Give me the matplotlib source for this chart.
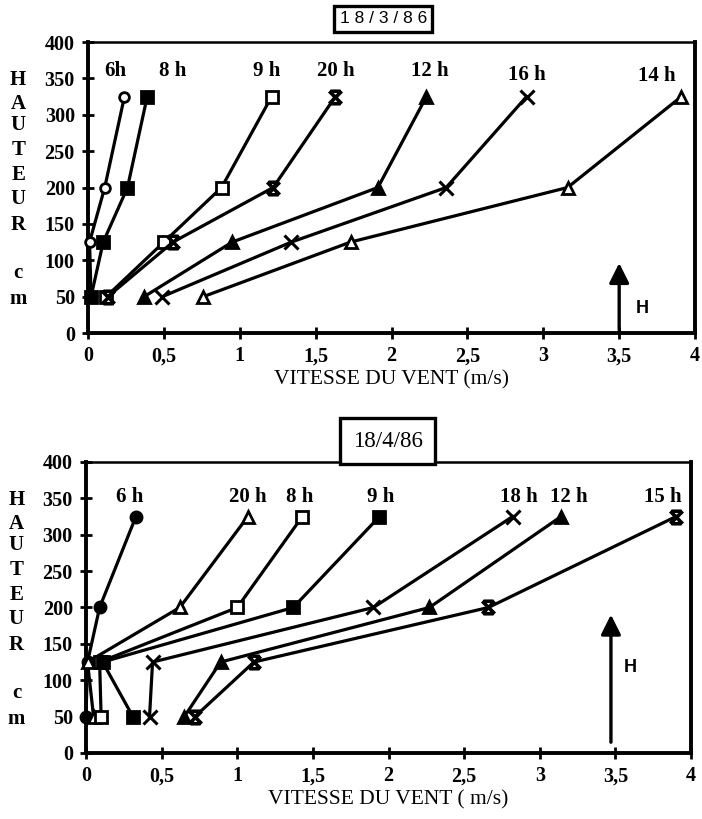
import matplotlib
matplotlib.use("Agg")
import matplotlib.pyplot as plt
from matplotlib.path import Path

# hauteurs de mesure (cm)
hauteurs = [50, 125, 200, 325]

# 18/3/86 - vitesse du vent (m/s) a 50, 125, 200, 325 cm
heures_mars = ["6h", "8 h", "9 h", "20 h", "12 h", "16 h", "14 h"]
v_mars_6h = [0.02, 0.01, 0.11, 0.24]
v_mars_8h = [0.02, 0.10, 0.26, 0.39]
v_mars_9h = [0.12, 0.50, 0.88, 1.21]
v_mars_20h = [0.13, 0.56, 1.22, 1.63]
v_mars_12h = [0.37, 0.95, 1.91, 2.23]
v_mars_16h = [0.49, 1.34, 2.36, 2.89]
v_mars_14h = [0.76, 1.73, 3.16, 3.91]
lab_x_mars = [0.18, 0.56, 1.18, 1.63, 2.25, 2.89, 3.75]
lab_y_mars = [360, 360, 360, 360, 360, 355, 353]

# 18/4/86
heures_avril = ["6 h", "20 h", "8 h", "9 h", "18 h", "12 h", "15 h"]
v_avril_6h = [0.00, 0.01, 0.09, 0.33]
v_avril_20h = [0.05, 0.01, 0.62, 1.07]
v_avril_8h = [0.10, 0.09, 1.00, 1.43]
v_avril_9h = [0.31, 0.11, 1.37, 1.94]
v_avril_18h = [0.42, 0.44, 1.90, 2.82]
v_avril_12h = [0.65, 0.89, 2.27, 3.14]
v_avril_15h = [0.72, 1.11, 2.66, 3.90]
lab_x_avril = [0.29, 1.07, 1.41, 1.95, 2.86, 3.19, 3.81]
lab_y_avril = [352, 352, 352, 352, 352, 352, 352]

xticks = [0, 0.5, 1, 1.5, 2, 2.5, 3, 3.5, 4]
xticklabels = ["0", "0,5", "1", "1,5", "2", "2,5", "3", "3,5", "4"]
yticks = [0, 50, 100, 150, 200, 250, 300, 350, 400]

serif = "Liberation Serif"

# marqueur "x" avec barres (comme dans l'original)
papillon = Path([(-1, -1), (1, 1), (-1, 1), (1, -1), (-0.8, 1), (0.8, 1), (-0.8, -1), (0.8, -1)],
                [Path.MOVETO, Path.LINETO, Path.MOVETO, Path.LINETO,
                 Path.MOVETO, Path.LINETO, Path.MOVETO, Path.LINETO])

def courbe(ax, v, marker, fill, ms, mew=2):
    ax.plot(v, hauteurs, color="black", lw=2.3, marker=marker, ms=ms,
            mfc=fill, mec="black", mew=mew, zorder=3, clip_on=False)

def cadre(ax, xlabel, arrow_top, arrow_base, h_pos):
    ax.set_xlim(0, 4)
    ax.set_ylim(0, 400)
    ax.set_xticks(xticks)
    ax.set_xticklabels(xticklabels)
    ax.set_yticks(yticks)
    for s in ["left", "bottom", "right"]:
        ax.spines[s].set_linewidth(2.8)
    ax.spines["top"].set_linewidth(1.8)
    ax.tick_params(direction="inout", length=9, width=2, pad=5)
    for t in ax.get_xticklabels() + ax.get_yticklabels():
        t.set_fontfamily(serif)
        t.set_fontweight("bold")
        t.set_fontsize(14.5)
    ax.set_xlabel(xlabel, fontfamily=serif, fontsize=15.5, labelpad=3)
    lettres = ["H", "A", "U", "T", "E", "U", "R", "c", "m"]
    ys = [348, 315, 286, 252, 217, 184, 148, 82, 47]
    for l, y in zip(lettres, ys):
        ax.text(-0.46, y, l, fontfamily=serif, fontsize=15, fontweight="bold",
                ha="center", va="center", clip_on=False)
    ax.annotate("", xy=(arrow_top[0], arrow_top[1]), xytext=arrow_base,
                arrowprops=dict(arrowstyle="-|>", lw=2.4, color="black",
                                mutation_scale=30))
    ax.text(h_pos[0], h_pos[1], "H", fontfamily="Liberation Sans", fontsize=13,
            fontweight="bold", ha="center", va="center")

fig = plt.figure(figsize=(7.02, 8.19), dpi=100)

# --- 18/3/86 ---
ax1 = fig.add_axes([0.1254, 0.5934, 0.8647, 0.3553])
courbe(ax1, v_mars_6h, "o", "white", 7)
courbe(ax1, v_mars_8h, "s", "black", 9)
courbe(ax1, v_mars_9h, "s", "white", 9)
courbe(ax1, v_mars_20h, papillon, "none", 9, 2.6)
courbe(ax1, v_mars_12h, "^", "black", 9)
courbe(ax1, v_mars_16h, "x", "none", 10, 2.2)
courbe(ax1, v_mars_14h, "^", "white", 9)
for h, x, y in zip(heures_mars, lab_x_mars, lab_y_mars):
    ax1.text(x, y, h, fontfamily=serif, fontweight="bold", fontsize=15,
             ha="center", va="center")
cadre(ax1, "VITESSE DU VENT (m/s)", (3.5, 100), (3.5, 0), (3.65, 34))
fig.text(0.546, 0.977, "1 8 / 3 / 8 6", fontfamily="Liberation Sans", fontsize=12.5,
         ha="center", va="center",
         bbox=dict(boxstyle="square,pad=0.3", fc="white", ec="black", lw=2.4))

# --- 18/4/86 ---
ax2 = fig.add_axes([0.1225, 0.0806, 0.862, 0.3553])
courbe(ax2, v_avril_6h, "o", "black", 8)
courbe(ax2, v_avril_20h, "^", "white", 9)
courbe(ax2, v_avril_8h, "s", "white", 9)
courbe(ax2, v_avril_9h, "s", "black", 9)
courbe(ax2, v_avril_18h, "x", "none", 10, 2.2)
courbe(ax2, v_avril_12h, "^", "black", 9)
courbe(ax2, v_avril_15h, papillon, "none", 9, 2.6)
for h, x, y in zip(heures_avril, lab_x_avril, lab_y_avril):
    ax2.text(x, y, h, fontfamily=serif, fontweight="bold", fontsize=15,
             ha="center", va="center")
cadre(ax2, "VITESSE DU VENT ( m/s)", (3.47, 194), (3.47, 11), (3.6, 117))
fig.text(0.552, 0.4615, "18/4/86", fontfamily=serif, fontsize=16.5,
         ha="center", va="center",
         bbox=dict(boxstyle="square,pad=0.55", fc="white", ec="black", lw=2.4))

fig.savefig("out.png", dpi=100)
